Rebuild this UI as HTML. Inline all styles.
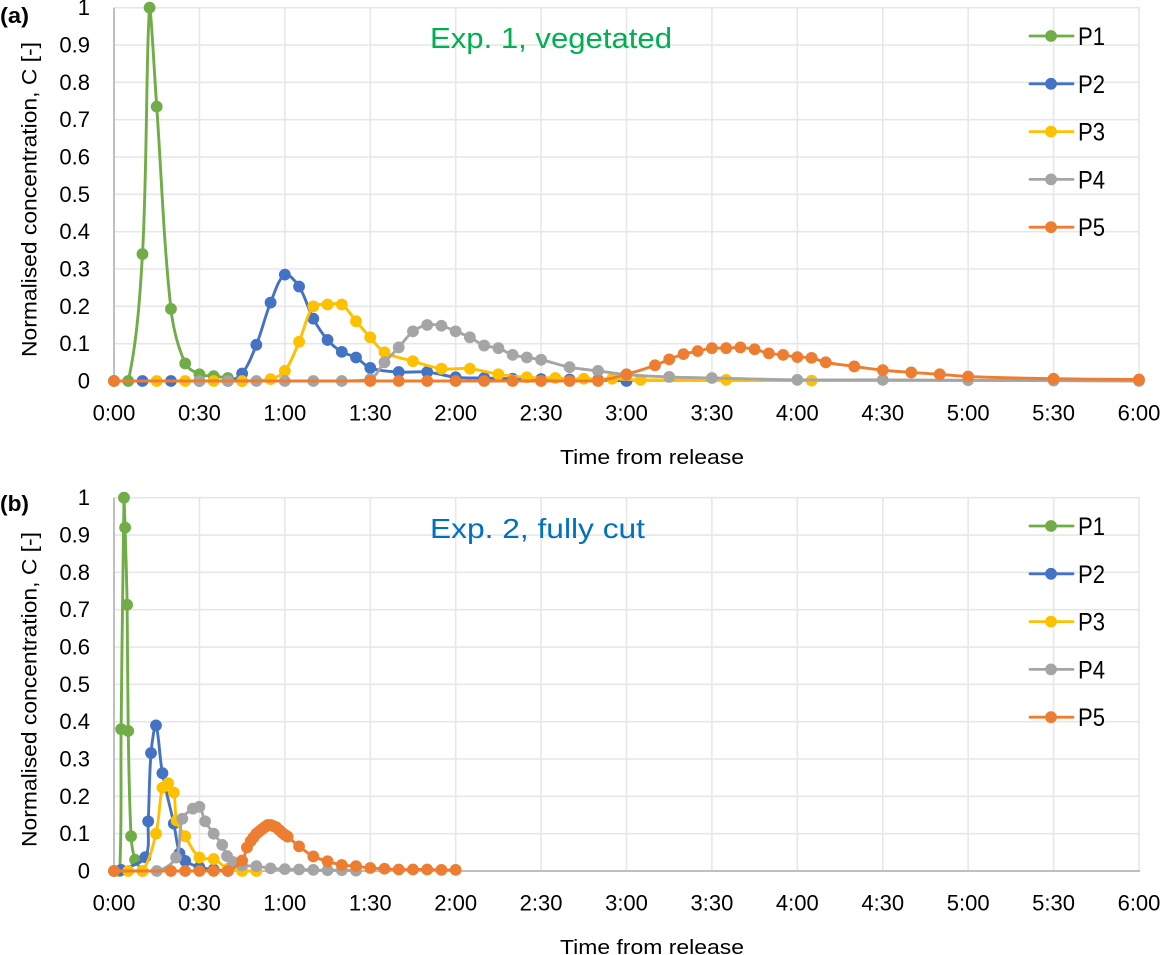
<!DOCTYPE html>
<html lang="en">
<head>
<meta charset="utf-8">
<title>Normalised concentration charts</title>
<style>
html,body{margin:0;padding:0;background:#fff;width:1162px;height:955px;overflow:hidden}
svg{display:block;font-family:"Liberation Sans",sans-serif}
</style>
</head>
<body>
<svg id="figure" width="1162" height="955" viewBox="0 0 1162 955" xmlns="http://www.w3.org/2000/svg">
  <g id="plots"></g>
  <text x="0" y="23" font-size="22" font-weight="bold" fill="#000" textLength="29" lengthAdjust="spacingAndGlyphs">(a)</text>
  <text x="0" y="511" font-size="22" font-weight="bold" fill="#000" textLength="29" lengthAdjust="spacingAndGlyphs">(b)</text>
  <text x="430" y="48" font-size="29" fill="#00b050" textLength="242" lengthAdjust="spacingAndGlyphs">Exp. 1, vegetated</text>
  <text x="430" y="538" font-size="28" fill="#0070c0" textLength="215" lengthAdjust="spacingAndGlyphs">Exp. 2, fully cut</text>
  <text transform="translate(36.5,357) rotate(-90)" font-size="21" fill="#000" textLength="315" lengthAdjust="spacingAndGlyphs">Normalised concentration, C [-]</text>
  <text transform="translate(36.5,847) rotate(-90)" font-size="21" fill="#000" textLength="315" lengthAdjust="spacingAndGlyphs">Normalised concentration, C [-]</text>
  <text x="560" y="464" font-size="20" fill="#000" textLength="184" lengthAdjust="spacingAndGlyphs">Time from release</text>
  <text x="560" y="954" font-size="20" fill="#000" textLength="184" lengthAdjust="spacingAndGlyphs">Time from release</text>
</svg>
<script>
// Axis labels and legend
const yTickLabels = ["0","0.1","0.2","0.3","0.4","0.5","0.6","0.7","0.8","0.9","1"];
const yTickValues = [0,0.1,0.2,0.3,0.4,0.5,0.6,0.7,0.8,0.9,1];
const xTickLabels = ["0:00","0:30","1:00","1:30","2:00","2:30","3:00","3:30","4:00","4:30","5:00","5:30","6:00"];
const xTickMinutes = [0,30,60,90,120,150,180,210,240,270,300,330,360];
const seriesNames = ["P1","P2","P3","P4","P5"];
const seriesColors = ["#70ad47","#4472c4","#ffc000","#a5a5a5","#ed7d31"];

// Panel (a): Exp. 1, vegetated. Times in minutes from release.
const aP1Times = [0,5,10,12.5,15,20,25,30,35,40,45];
const aP1Values = [0,0,0.34,1,0.735,0.193,0.047,0.018,0.013,0.008,0];
const aP2Times = [0,10,20,30,40,45,50,55,60,65,70,75,80,85,90,100,110,120,130,140,150,160,170,180];
const aP2Values = [0,0,0,0,0,0.02,0.097,0.21,0.285,0.253,0.167,0.11,0.078,0.063,0.035,0.024,0.024,0.01,0.008,0.006,0.005,0.004,0.003,0];
const aP3Times = [0,15,25,35,45,55,60,65,70,75,80,85,90,95,105,115,125,135,145,155,165,175,185,215,245];
const aP3Values = [0,0,0,0,0,0.005,0.027,0.105,0.2,0.205,0.205,0.16,0.117,0.077,0.053,0.033,0.033,0.018,0.01,0.008,0.006,0.006,0.003,0.003,0.001];
const aP4Times = [0,30,40,50,60,70,80,90,95,100,105,110,115,120,125,130,135,140,145,150,160,170,180,195,210,240,270,300,330,360];
const aP4Values = [0,0,0,0,0,0,0,0.005,0.05,0.09,0.133,0.15,0.148,0.133,0.117,0.095,0.088,0.07,0.063,0.057,0.037,0.027,0.017,0.011,0.008,0.003,0.003,0.002,0.001,0];
const aP5Times = [0,90,100,110,120,130,140,150,160,170,180,190,195,200,205,210,215,220,225,230,235,240,245,250,260,270,280,290,300,330,360];
const aP5Values = [0,0,0,0,0,0,0,0,0,0,0.018,0.042,0.058,0.072,0.08,0.088,0.088,0.09,0.085,0.074,0.07,0.064,0.062,0.05,0.039,0.029,0.023,0.018,0.012,0.006,0.004];

// Panel (b): Exp. 2, fully cut. Times in minutes from release.
const bP1Times = [0,2,2.5,3.5,3.9,4.6,5,6,7.4,10];
const bP1Values = [0,0,0.38,1,0.92,0.713,0.375,0.093,0.03,0];
const bP2Times = [0,2.5,11,12,13,14.75,17,21,23,25,30,35,40];
const bP2Values = [0,0.003,0.037,0.133,0.316,0.39,0.262,0.127,0.047,0.027,0.01,0.004,0];
const bP3Times = [0,5,10,14.75,17,19,21,22,25,30,35,40,45,50];
const bP3Values = [0,0,0,0.1,0.223,0.235,0.21,0.135,0.093,0.036,0.032,0.006,0,0];
const bP4Times = [0,15,21.8,24,27.7,30,32,35,38,39.7,41.8,45,50,55,60,65,70,75,80,85];
const bP4Values = [0,0,0.036,0.14,0.167,0.172,0.133,0.1,0.07,0.04,0.024,0.015,0.013,0.007,0.005,0.004,0.003,0.002,0.002,0.001];
const bP5Times = [0,20,25,30,35,40,45,46.7,48,49,50,51,52,53,54,55,56,57,58,59,60,61,65,70,75,80,85,90,95,100,105,110,115,120];
const bP5Values = [0,0,0,0,0,0,0.028,0.063,0.08,0.09,0.1,0.106,0.112,0.118,0.123,0.123,0.12,0.117,0.11,0.103,0.097,0.092,0.066,0.039,0.026,0.016,0.013,0.008,0.006,0.004,0.004,0.004,0.003,0.003];

const aTimes = [aP1Times,aP2Times,aP3Times,aP4Times,aP5Times];
const aValues = [aP1Values,aP2Values,aP3Values,aP4Values,aP5Values];
const bTimes = [bP1Times,bP2Times,bP3Times,bP4Times,bP5Times];
const bValues = [bP1Values,bP2Values,bP3Values,bP4Values,bP5Values];

const NS = "http://www.w3.org/2000/svg";
const plots = document.getElementById("plots");
const LEFT = 114, RIGHT = 1139;
function xScale(m){ return LEFT + (RIGHT - LEFT) * m / 360; }

function make(tag, attrs, parent){
  const el = document.createElementNS(NS, tag);
  for (const k in attrs) el.setAttribute(k, attrs[k]);
  parent.appendChild(el);
  return el;
}

function smoothPath(pts, top, bottom){
  let d = "M" + pts[0][0].toFixed(2) + " " + pts[0][1].toFixed(2);
  const dist = (p,q) => Math.hypot(p[0]-q[0], p[1]-q[1]);
  const clampY = y => Math.min(bottom, Math.max(top, y));
  for (let i = 0; i < pts.length - 1; i++){
    const p0 = pts[Math.max(0,i-1)], p1 = pts[i], p2 = pts[i+1], p3 = pts[Math.min(pts.length-1,i+2)];
    const l0 = dist(p0,p1), l1 = dist(p1,p2), l2 = dist(p2,p3);
    const f1 = l0 + l1 > 0 ? (l1/(l0+l1))/3 : 0;
    const f2 = l1 + l2 > 0 ? (l1/(l1+l2))/3 : 0;
    const c1x = p1[0] + (p2[0]-p0[0])*f1, c1y = clampY(p1[1] + (p2[1]-p0[1])*f1);
    const c2x = p2[0] - (p3[0]-p1[0])*f2, c2y = clampY(p2[1] - (p3[1]-p1[1])*f2);
    d += "C" + c1x.toFixed(2) + " " + c1y.toFixed(2) + " " + c2x.toFixed(2) + " " + c2y.toFixed(2) + " " + p2[0].toFixed(2) + " " + p2[1].toFixed(2);
  }
  return d;
}

function drawPanel(id, top, bottom, times, values, legendTop){
  const yScale = v => bottom - (bottom - top) * v;
  const panel = make("g", {}, plots);
  
  

  yTickValues.forEach((v, i) => {
    const y = yScale(v);
    if (v > 0) {
      const line = make("line", {x1:LEFT, x2:RIGHT+1, y1:y, y2:y, stroke:"#e7e7e7", "stroke-width":1.6}, panel);
      
      
    }
    const label = make("text", {x:90, y:y+7.5, "text-anchor":"end", "font-size":22, fill:"#000"}, panel);
    
    
    label.textContent = yTickLabels[i];
  });

  xTickMinutes.forEach((m, i) => {
    const x = xScale(m);
    if (m > 0) {
      const line = make("line", {x1:x, x2:x, y1:top, y2:bottom, stroke:"#e7e7e7", "stroke-width":1.6}, panel);
      
      
    }
    const label = make("text", {x:x, y:bottom+39.5, "text-anchor":"middle", "font-size":22, fill:"#000"}, panel);
    
    
    label.textContent = xTickLabels[i];
  });

  const yAxis = make("line", {x1:LEFT, x2:LEFT, y1:top, y2:bottom, stroke:"#bfbfbf", "stroke-width":2}, panel);
  
  
  const xAxis = make("line", {x1:LEFT, x2:RIGHT+1, y1:bottom, y2:bottom, stroke:"#bfbfbf", "stroke-width":2}, panel);
  
  

  seriesNames.forEach((name, s) => {
    const g = make("g", {}, panel);
    
    
    const pts = times[s].map((t, i) => [xScale(t), yScale(values[s][i])]);
    const path = make("path", {d:smoothPath(pts, top, bottom), fill:"none", stroke:seriesColors[s], "stroke-width":2.9, "stroke-linejoin":"round", "stroke-linecap":"round"}, g);
    
    
    pts.forEach(p => {
      const dot = make("circle", {cx:p[0], cy:p[1], r:5.9, fill:seriesColors[s]}, g);
      
      
    });
  });

  seriesNames.forEach((name, s) => {
    const y = legendTop + s * 47.8;
    const g = make("g", {}, panel);
    
    
    make("line", {x1:1030, x2:1073, y1:y, y2:y, stroke:seriesColors[s], "stroke-width":2.8, "stroke-linecap":"round"}, g);
    make("circle", {cx:1051, cy:y, r:5.9, fill:seriesColors[s]}, g);
    const t = make("text", {x:1078, y:y+9, "font-size":25, fill:"#000", textLength:27, lengthAdjust:"spacingAndGlyphs"}, g);
    t.textContent = name;
  });
}

drawPanel("a", 7.7, 381, aTimes, aValues, 36);
drawPanel("b", 497.7, 871, bTimes, bValues, 526);
</script>
</body>
</html>
